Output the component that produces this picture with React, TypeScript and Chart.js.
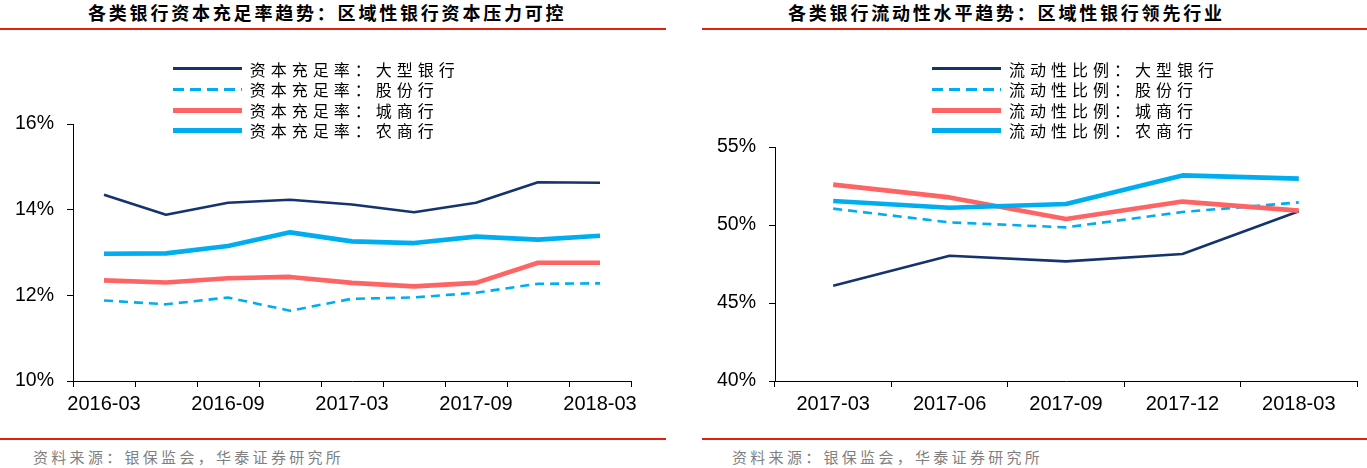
import React, { useEffect, useRef } from 'react';
import { Chart, registerables } from 'chart.js';

Chart.register(...registerables);

// ---------- data ----------
const capCategories = ['2016-03', '2016-06', '2016-09', '2016-12', '2017-03', '2017-06', '2017-09', '2017-12', '2018-03'];
const capLarge = [14.35, 13.88, 14.16, 14.23, 14.12, 13.94, 14.16, 14.64, 14.63];
const capJoint = [11.88, 11.79, 11.95, 11.64, 11.92, 11.95, 12.06, 12.27, 12.28];
const capCity = [12.35, 12.30, 12.40, 12.43, 12.29, 12.21, 12.29, 12.76, 12.76];
const capRural = [12.97, 12.98, 13.15, 13.47, 13.26, 13.22, 13.37, 13.30, 13.39];
const capYTicks = [10, 12, 14, 16];
const capNames = ['资本充足率：大型银行', '资本充足率：股份行', '资本充足率：城商行', '资本充足率：农商行'];
const capTitle = '各类银行资本充足率趋势：区域性银行资本压力可控';

const liqCategories = ['2017-03', '2017-06', '2017-09', '2017-12', '2018-03'];
const liqLarge = [46.11, 48.03, 47.67, 48.14, 50.88];
const liqJoint = [51.05, 50.17, 49.85, 50.83, 51.45];
const liqCity = [52.59, 51.77, 50.38, 51.50, 50.92];
const liqRural = [51.54, 51.11, 51.35, 53.18, 52.97];
const liqYTicks = [40, 45, 50, 55];
const liqNames = ['流动性比例：大型银行', '流动性比例：股份行', '流动性比例：城商行', '流动性比例：农商行'];
const liqTitle = '各类银行流动性水平趋势：区域性银行领先行业';

const sourceText = '资料来源：银保监会，华泰证券研究所';

// ---------- styles ----------
const seriesColors = ['#15346f', '#00aeef', '#ff6464', '#00aeef'];
const seriesWidths = [2.6, 2.6, 4.6, 4.6];
const legendWidths = [3, 3, 5, 5];
const seriesDash: number[][] = [[], [9, 6], [], []];
const seriesOrder = [4, 3, 2, 1];

const RED = '#e61e0f';
const LABEL_FONT = '"Liberation Sans", Arial, sans-serif';
const CJK_FONT = '"Noto Sans CJK SC", "Noto Sans", sans-serif';

type Cfg = {
  labels: string[];
  series: number[][];
  yTicks: number[];
  labelEvery: number;
  padding: { left: number; top: number; right: number; bottom: number };
  yWidth: number;
  xHeight: number;
};

function buildConfig(c: Cfg): any {
  return {
    type: 'line',
    data: {
      labels: c.labels,
      datasets: c.series.map((d, i) => ({
        data: d,
        borderColor: seriesColors[i],
        backgroundColor: seriesColors[i],
        borderWidth: seriesWidths[i],
        borderDash: seriesDash[i],
        borderJoinStyle: 'round',
        borderCapStyle: 'butt',
        pointRadius: 0,
        pointHoverRadius: 0,
        tension: 0,
        fill: false,
        order: seriesOrder[i],
      })),
    },
    options: {
      responsive: false,
      animation: false,
      events: [],
      layout: { padding: c.padding },
      plugins: { legend: { display: false }, tooltip: { enabled: false }, title: { display: false } },
      scales: {
        x: {
          type: 'category',
          offset: true,
          grid: { display: true, offset: true, drawOnChartArea: false, drawTicks: true, tickLength: 6, color: '#000', lineWidth: 1 },
          border: { display: true, color: '#000', width: 1 },
          ticks: {
            autoSkip: false,
            maxRotation: 0,
            minRotation: 0,
            padding: 5,
            color: '#000',
            font: { family: LABEL_FONT, size: 20 },
            callback: (_v: any, idx: number) => (idx % c.labelEvery === 0 ? c.labels[idx] : ''),
          },
          afterFit: (s: any) => { s.height = c.xHeight; },
        },
        y: {
          type: 'linear',
          min: c.yTicks[0],
          max: c.yTicks[c.yTicks.length - 1],
          grid: { display: true, drawOnChartArea: false, drawTicks: true, tickLength: 6, color: '#000', lineWidth: 1 },
          border: { display: true, color: '#000', width: 1 },
          ticks: {
            padding: 13,
            color: '#000',
            font: { family: LABEL_FONT, size: 19.5 },
            callback: (v: any) => v + '%',
          },
          afterBuildTicks: (s: any) => { s.ticks = c.yTicks.map((v) => ({ value: v })); },
          afterFit: (s: any) => { s.width = c.yWidth; },
        },
      },
    },
  };
}

function ChartCanvas({ left, width, height, cfg }: { left: number; width: number; height: number; cfg: Cfg }) {
  const ref = useRef<HTMLCanvasElement>(null);
  useEffect(() => {
    const chart = new Chart(ref.current as HTMLCanvasElement, buildConfig(cfg));
    return () => chart.destroy();
  }, []);
  return (
    <canvas
      ref={ref}
      width={width}
      height={height}
      style={{ position: 'absolute', left, top: 0, width, height }}
    />
  );
}

function Legend({ left, top, names }: { left: number; top: number; names: string[] }) {
  return (
    <div style={{ position: 'absolute', left, top }}>
      {names.map((n, i) => (
        <div key={i} style={{ display: 'flex', alignItems: 'center', height: 20.6 }}>
          <div
            style={{
              width: 69,
              height: legendWidths[i],
              marginRight: 8,
              background: seriesDash[i].length
                ? `repeating-linear-gradient(to right, ${seriesColors[i]} 0px, ${seriesColors[i]} 11px, transparent 11px, transparent 17px)`
                : seriesColors[i],
            }}
          />
          <span style={{ fontFamily: CJK_FONT, fontSize: 16, letterSpacing: 5, lineHeight: '20.6px', color: '#000', whiteSpace: 'nowrap' }}>{n}</span>
        </div>
      ))}
    </div>
  );
}

function Title({ left, text }: { left: number; text: string }) {
  return (
    <div
      style={{
        position: 'absolute', left, top: 0, height: 25, lineHeight: '25px',
        fontFamily: CJK_FONT, fontWeight: 700, fontSize: 18, letterSpacing: 2.8, color: '#000', whiteSpace: 'nowrap',
      }}
    >
      {text}
    </div>
  );
}

function Source({ left }: { left: number }) {
  return (
    <div
      style={{
        position: 'absolute', left, top: 446.5, height: 20, lineHeight: '20px',
        fontFamily: CJK_FONT, fontSize: 15, letterSpacing: 3.3, color: '#7f7f7f', whiteSpace: 'nowrap',
      }}
    >
      {sourceText}
    </div>
  );
}

function Rule({ left, width, top }: { left: number; width: number; top: number }) {
  return <div style={{ position: 'absolute', left, width, top, height: 2, background: RED }} />;
}

export default function App() {
  const capCfg: Cfg = {
    labels: capCategories,
    series: [capLarge, capJoint, capCity, capRural],
    yTicks: capYTicks,
    labelEvery: 2,
    padding: { left: 0, top: 124, right: 52, bottom: 0 },
    yWidth: 73,
    xHeight: 49,
  };
  const liqCfg: Cfg = {
    labels: liqCategories,
    series: [liqLarge, liqJoint, liqCity, liqRural],
    yTicks: liqYTicks,
    labelEvery: 1,
    padding: { left: 0, top: 147, right: 10, bottom: 0 },
    yWidth: 92,
    xHeight: 49,
  };
  return (
    <div style={{ position: 'absolute', left: 0, top: 0, width: 1367, height: 468, background: '#fff', overflow: 'hidden' }}>
      <Title left={88} text={capTitle} />
      <Title left={788} text={liqTitle} />
      <Rule left={0} width={666} top={28} />
      <Rule left={702} width={665} top={28} />
      <ChartCanvas left={0} width={683} height={430} cfg={capCfg} />
      <ChartCanvas left={683} width={684} height={430} cfg={liqCfg} />
      <Legend left={172.7} top={58.7} names={capNames} />
      <Legend left={932} top={58.7} names={liqNames} />
      <Rule left={0} width={666} top={438} />
      <Rule left={702} width={665} top={438} />
      <Source left={33} />
      <Source left={732} />
    </div>
  );
}
